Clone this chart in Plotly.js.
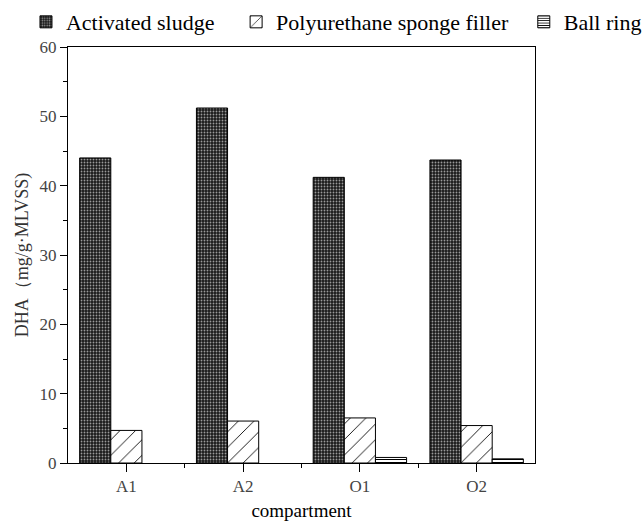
<!DOCTYPE html>
<html>
<head>
<meta charset="utf-8">
<script src="https://cdn.plot.ly/plotly-3.0.1.min.js"></script>
<style>
  html, body { margin: 0; padding: 0; background: #fff; }
  #chart { width: 643px; height: 525px; }
</style>
</head>
<body>
<div id="chart"></div>
<script>
// DHA of each carrier type across the reactor compartments
const compartments = ['A1', 'A2', 'O1', 'O2'];
const activatedSludge = [44.0, 51.2, 41.2, 43.7];
const spongeFiller = [4.7, 6.05, 6.5, 5.4];
const ballRing = [null, null, 0.8, 0.6];
const compartmentBounds = [0.5, 1.5, 2.5];

const serif = 'Liberation Serif';
const idx = compartments.map((_, i) => i);

const outline = { color: '#000', width: 1 };

const traces = [
  {
    type: 'bar', name: 'Activated sludge', x: idx, y: activatedSludge, legend: 'legend',
    marker: {
      color: '#222', line: outline,
      pattern: { shape: '.', bgcolor: '#1a1a1a', fgcolor: '#9a9a9a', size: 3, solidity: 0.3 }
    }
  },
  {
    type: 'bar', name: 'Polyurethane sponge filler', x: idx, y: spongeFiller, legend: 'legend2',
    marker: {
      color: '#fff', line: outline,
      pattern: { shape: '/', bgcolor: '#fff', fgcolor: '#000', size: 11, solidity: 0.08 }
    }
  },
  {
    type: 'bar', name: 'Ball ring', x: idx, y: ballRing, legend: 'legend3',
    marker: {
      color: '#fff', line: outline,
      pattern: { shape: '-', bgcolor: '#fff', fgcolor: '#000', size: 3, solidity: 0.35 }
    }
  },
  {
    // carries the short ticks marking compartment boundaries
    type: 'scatter', x: compartmentBounds, y: [null, null, null], xaxis: 'x2',
    showlegend: false, hoverinfo: 'skip'
  }
];

function legendAt(x) {
  return {
    orientation: 'h', x: x, xanchor: 'left', y: 1.06, yanchor: 'middle',
    font: { family: serif, size: 22, color: '#000' },
    bgcolor: 'rgba(0,0,0,0)', itemclick: false
  };
}

const layout = {
  width: 643, height: 525,
  margin: { l: 68, r: 108, t: 47, b: 62, autoexpand: false },
  paper_bgcolor: '#fff', plot_bgcolor: '#fff',
  barmode: 'group', bargap: 0.2, bargroupgap: 0,
  font: { family: serif, color: '#000' },
  showlegend: true,
  legend: legendAt(-0.09),
  legend2: legendAt(0.36),
  legend3: legendAt(0.976),
  xaxis: {
    range: [-0.5, 3.5], tickmode: 'array', tickvals: idx, ticktext: compartments,
    showline: true, linecolor: '#000', linewidth: 1, mirror: true,
    ticks: 'outside', ticklen: 8, tickcolor: '#000', tickwidth: 1,
    tickfont: { family: serif, size: 17, color: '#444' },
    showgrid: false, zeroline: false, fixedrange: true, automargin: false,
    title: { text: 'compartment', font: { family: serif, size: 19, color: '#000' }, standoff: 8 }
  },
  xaxis2: {
    overlaying: 'x', range: [-0.5, 3.5], tickmode: 'array', tickvals: compartmentBounds,
    showticklabels: false, ticks: 'outside', ticklen: 4, tickcolor: '#000',
    showline: false, showgrid: false, zeroline: false, side: 'bottom', fixedrange: true
  },
  yaxis: {
    range: [0, 60], tickmode: 'linear', tick0: 0, dtick: 10,
    showline: true, linecolor: '#000', linewidth: 1, mirror: true,
    ticks: 'outside', ticklen: 7, tickcolor: '#000', tickwidth: 1,
    minor: { dtick: 5, ticks: 'outside', ticklen: 4, tickcolor: '#000' },
    tickfont: { family: serif, size: 17, color: '#444' },
    showgrid: false, zeroline: false, fixedrange: true, automargin: false,
    title: { text: 'DHA（mg/g·MLVSS)', font: { family: serif, size: 18, color: '#333' }, standoff: 6 }
  }
};

Plotly.newPlot('chart', traces, layout, { displayModeBar: false, staticPlot: true });
</script>
</body>
</html>
